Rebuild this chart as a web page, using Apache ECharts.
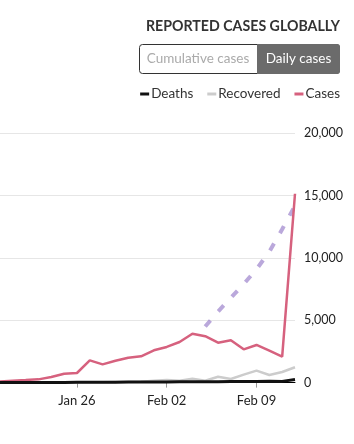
<!DOCTYPE html>
<html><head><meta charset="utf-8">
<script src="https://cdn.jsdelivr.net/npm/echarts@6/dist/echarts.min.js"></script>
<style>html,body{margin:0;padding:0;background:#fff;}#c{width:354px;height:444px;}</style>
</head><body><div id="c"></div>
<script>
var dates = ['Jan 20','Jan 21','Jan 22','Jan 23','Jan 24','Jan 25','Jan 26','Jan 27','Jan 28','Jan 29','Jan 30','Jan 31','Feb 01','Feb 02','Feb 03','Feb 04','Feb 05','Feb 06','Feb 07','Feb 08','Feb 09','Feb 10','Feb 11','Feb 12'];
var tickLabels = ['Jan 26','Feb 02','Feb 09'];
var deaths = [0,3,8,8,16,15,24,26,26,38,43,46,45,57,64,65,73,73,86,89,97,108,97,254];
var recovered = [0,0,5,5,10,10,15,20,30,40,50,70,150,200,150,300,150,470,290,640,960,610,850,1230];
var cases = [80,150,200,260,450,710,770,1780,1460,1750,2000,2110,2590,2860,3260,3920,3720,3200,3390,2670,3020,2560,2080,15150];
var cumulativeGhost = [null,null,null,null,null,null,null,null,null,null,null,null,null,null,null,null,4500,5700,6800,7900,9100,10500,12300,14200];
var yTicks = [0,5000,10000,15000,20000];

var FONT = 'Lato, "Noto Sans", sans-serif';
var chart = echarts.init(document.getElementById('c'), null, {renderer:'canvas'});
function showTick(i, v){ return tickLabels.indexOf(v) >= 0; }
chart.setOption({
  animation:false,
  textStyle:{fontFamily:FONT},
  title:{text:'REPORTED CASES GLOBALLY', right:9, top:14,
    textStyle:{fontFamily:FONT, fontSize:14.2, fontWeight:'bold', color:'#333'}},
  legend:{right:9, top:82, itemWidth:9, itemHeight:3, itemGap:14, icon:'rect',
    textStyle:{fontFamily:FONT, fontSize:13.5, color:'#333', padding:[0,0,0,-3]},
    data:[{name:'Deaths', itemStyle:{color:'#111'}},{name:'Recovered', itemStyle:{color:'#cccccc'}},{name:'Cases', itemStyle:{color:'#d6617e'}}]},
  graphic:[
    {type:'rect', shape:{x:139.5,y:44.5,width:200,height:29,r:3}, style:{fill:'#fff', stroke:'#333', lineWidth:1}},
    {type:'rect', shape:{x:257,y:44,width:83,height:30,r:[0,3,3,0]}, style:{fill:'#6b6b6b'}},
    {type:'text', x:198, y:59, style:{text:'Cumulative cases', fill:'#aaaaaa', fontFamily:FONT, fontSize:13.5, align:'center', verticalAlign:'middle'}},
    {type:'text', x:298.5, y:59, style:{text:'Daily cases', fill:'#fff', fontFamily:FONT, fontSize:13.5, align:'center', verticalAlign:'middle'}}
  ],
  grid:{left:-10, right:59, top:133.3, bottom:61.4, containLabel:false},
  xAxis:{type:'category', data:dates, boundaryGap:false,
    axisLine:{show:true, lineStyle:{color:'#000', width:1}},
    axisTick:{show:true, interval:showTick, length:5, lineStyle:{color:'#999'}},
    axisLabel:{interval:showTick, margin:12, fontSize:13, color:'#222', fontFamily:FONT},
    splitLine:{show:false}},
  yAxis:{type:'value', position:'right', min:yTicks[0], max:yTicks[yTicks.length-1], interval:5000,
    axisLine:{show:false}, axisTick:{show:false},
    axisLabel:{margin:9, fontSize:12.5, color:'#222', fontFamily:FONT,
      formatter:function(v){return v.toLocaleString('en-US');}},
    splitLine:{lineStyle:{color:'#e6e6e6', width:1}}},
  series:[
    {name:'Ghost', type:'line', data:cumulativeGhost, symbol:'none', z:1, silent:true,
      lineStyle:{color:'rgba(140,110,195,0.6)', width:4, type:[8,12]}},
    {name:'Recovered', type:'line', data:recovered, symbol:'none', z:2,
      lineStyle:{color:'#cccccc', width:2.5}},
    {name:'Cases', type:'line', data:cases, symbol:'none', z:3,
      lineStyle:{color:'#d6617e', width:2.5}},
    {name:'Deaths', type:'line', data:deaths, symbol:'none', z:4,
      lineStyle:{color:'#111', width:3}}
  ]
});
</script></body></html>
